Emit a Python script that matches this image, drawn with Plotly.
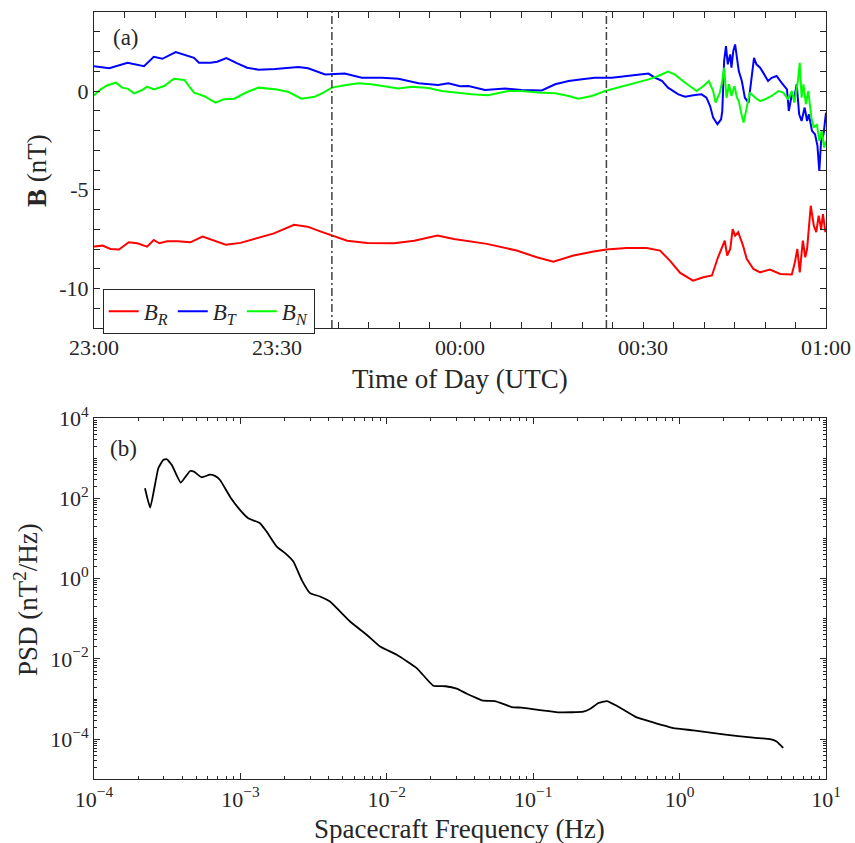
import plotly.graph_objects as go
from plotly.subplots import make_subplots

# ---------------- data (panel a): minutes after 23:00 UTC, field in nT ----------------
time_labels = ["23:00", "23:30", "00:00", "00:30", "01:00"]
time_label_pos = [0, 30, 60, 90, 120]
interval_bounds = [39.0, 84.0]

br_t = [0, 1.4, 2.7, 4.1, 5.7, 7.1, 8.7, 9.8, 10.7, 12.0,
        13.7, 15.8, 17.8, 19.4, 21.6, 24.0, 26.8, 29.5, 32.8, 35.0,
        37.2, 39.1, 41.5, 44.8, 49.2, 52.5, 56.3, 59.0, 60.7, 64.4,
        69.3, 72.6, 75.3, 78.6, 81.9, 84.0, 87.3, 90.6, 92.8, 94.4,
        96.1, 98.2, 99.9, 101.3, 102.3, 102.9, 103.4, 103.8, 104.3, 104.7,
        105.1, 105.6, 106.4, 107.0, 108.1, 109.2, 110.8, 112.5, 114.4, 114.9,
        115.3, 115.7, 116.2, 116.6, 116.9, 117.5, 118.0, 118.4, 118.8, 119.2, 119.5, 119.9]
br_v = [-7.88, -7.83, -8.00, -8.03, -7.66, -7.71, -7.88, -7.54, -7.71, -7.61,
        -7.61, -7.66, -7.37, -7.54, -7.78, -7.69, -7.44, -7.21, -6.77, -6.87,
        -7.12, -7.32, -7.58, -7.69, -7.71, -7.58, -7.32, -7.49, -7.58, -7.74,
        -8.08, -8.42, -8.64, -8.33, -8.13, -8.03, -7.95, -7.95, -8.08, -8.59,
        -9.21, -9.60, -9.43, -9.34, -8.42, -8.00, -7.58, -8.33, -8.00, -6.99,
        -7.32, -7.15, -7.83, -8.50, -9.01, -9.18, -9.04, -9.26, -9.29, -8.67,
        -8.00, -9.18, -7.58, -8.42, -8.00, -5.81, -6.82, -7.15, -6.31, -6.99, -6.23, -7.15]

bt_t = [0, 2.5, 5.5, 8.2, 9.8, 11.2, 13.4, 14.8, 16.4, 17.2,
        19.1, 20.2, 21.7, 23.5, 25.1, 27.0, 29.7, 33.5, 35.1, 37.9,
        41.1, 43.9, 47.2, 49.9, 53.2, 56.4, 58.1, 60.0, 61.4, 64.1,
        67.4, 70.1, 73.4, 75.6, 77.8, 80.0, 82.1, 84.9, 87.0, 89.5,
        90.9, 92.0, 93.1, 94.1, 95.8, 96.9, 98.5, 99.6, 100.4, 101.0,
        101.5, 102.2, 102.8, 103.0, 103.3, 103.6, 103.9, 104.3, 104.5, 104.8,
        105.1, 105.4, 105.7, 106.2, 106.7, 107.3, 107.7, 108.2, 108.6, 109.2,
        109.7, 110.5, 111.1, 111.9, 112.7, 113.6, 113.9, 114.4, 114.8, 115.2,
        115.6, 116.0, 116.5, 116.9, 117.2, 117.7, 118.2, 118.6, 118.9, 119.2, 119.6, 120.0]
bt_v = [1.26, 1.15, 1.43, 1.26, 1.73, 1.63, 1.97, 1.85, 1.68, 1.43,
        1.43, 1.48, 1.67, 1.40, 1.18, 1.08, 1.11, 1.21, 1.15, 0.84,
        0.88, 0.67, 0.67, 0.62, 0.39, 0.30, 0.39, 0.24, 0.25, 0.05,
        0.13, 0.05, 0.03, 0.34, 0.51, 0.59, 0.67, 0.67, 0.76, 0.84,
        0.88, 0.67, 0.51, 0.17, -0.17, -0.29, -0.20, -0.17, -0.34, -0.76,
        -1.35, -1.68, -1.43, -1.01, 1.52, 2.27, 1.35, 1.85, 1.18, 2.02,
        2.36, 1.52, 1.01, 0.51, -0.34, -0.59, 0.51, 1.68, 1.35, 1.18,
        0.93, 0.51, 0.67, 0.76, 0.42, 0.08, -1.01, -0.17, -0.34, 0.34,
        -1.18, -1.52, -0.84, -1.52, -1.18, -2.02, -2.19, -2.78, -4.05, -2.53, -2.19, -1.10]

bn_t = [0, 1.1, 2.2, 3.6, 4.6, 5.5, 6.6, 7.9, 8.7, 9.8,
        11.5, 13.1, 14.8, 15.6, 16.4, 18.0, 19.9, 21.3, 23.0, 25.1,
        27.0, 30.0, 31.9, 34.0, 36.2, 37.6, 39.0, 41.1, 43.3, 45.5,
        47.7, 49.9, 52.1, 54.8, 57.0, 59.5, 61.9, 64.6, 67.9, 70.1,
        72.8, 75.6, 77.8, 79.4, 81.6, 83.8, 86.5, 89.0, 90.9, 92.5,
        94.1, 95.2, 96.9, 98.8, 99.9, 100.8, 101.5, 101.9, 102.6, 103.0,
        103.3, 103.7, 104.1, 104.5, 105.0, 105.4, 105.7, 106.2, 106.5, 107.0,
        107.5, 108.4, 109.2, 110.0, 111.1, 112.2, 113.0, 113.8, 114.4, 114.8,
        115.4, 115.7, 116.0, 116.3, 116.7, 117.1, 117.6, 118.0, 118.5, 118.9, 119.3, 119.7, 120.0]
bn_v = [-0.22, 0.08, 0.29, 0.42, 0.17, 0.12, -0.12, 0.05, 0.22, 0.08,
        0.25, 0.62, 0.56, 0.25, -0.08, -0.25, -0.59, -0.42, -0.39, -0.05,
        0.17, 0.08, -0.05, -0.39, -0.29, -0.08, 0.17, 0.29, 0.39, 0.34,
        0.22, 0.13, 0.22, 0.15, 0.00, -0.10, -0.17, -0.22, 0.00, 0.00,
        -0.08, -0.12, -0.25, -0.39, -0.25, 0.00, 0.22, 0.46, 0.59, 0.76,
        0.98, 0.84, 0.42, 0.00, 0.25, 0.51, 0.00, -0.59, -0.08, 0.51,
        1.18, -0.34, 0.34, -0.25, 0.25, -0.34, -0.51, -1.26, -1.60, -0.84,
        -0.08, -0.34, -0.51, -0.42, -0.25, 0.00, -0.08, -0.42, 0.00, -0.59,
        0.51, 1.43, -0.34, 0.34, -0.67, 0.00, -1.35, -1.85, -1.68, -2.53, -2.02, -2.86, -2.53]

# ---------------- data (panel b): spacecraft-frame PSD ----------------
psd_freq = [2.23e-4, 2.42e-4, 2.75e-4, 2.97e-4, 3.14e-4, 3.40e-4, 3.91e-4, 4.53e-4, 4.82e-4, 5.44e-4,
            6.19e-4, 6.70e-4, 7.26e-4, 8.49e-4, 9.93e-4, 1.13e-3, 1.36e-3, 1.51e-3, 1.77e-3, 2.02e-3,
            2.30e-3, 2.62e-3, 2.99e-3, 3.50e-3, 4.09e-3, 5.61e-3, 7.29e-3, 8.99e-3, 1.17e-2, 1.60e-2,
            2.08e-2, 2.51e-2, 3.0e-2, 3.52e-2, 4.11e-2, 4.56e-2, 5.48e-2, 7.13e-2, 8.34e-2, 0.111,
            0.152, 0.220, 0.244, 0.279, 0.318, 0.372, 0.509, 0.661, 0.906, 1.24,
            1.99, 3.18, 4.15, 4.60, 5.10]
psd_val = [181, 59.4, 569, 914, 953, 687, 249, 486, 468, 339,
           394, 366, 290, 111, 52.0, 32.3, 24.3, 15.0, 6.34, 4.35,
           2.68, 0.94, 0.438, 0.361, 0.270, 0.0859, 0.0401, 0.0205, 0.0127, 5.93e-3,
           2.15e-3, 2.09e-3, 1.82e-3, 1.36e-3, 1.06e-3, 9.10e-4, 8.93e-4, 6.34e-4, 6.10e-4, 5.33e-4,
           4.66e-4, 4.84e-4, 5.65e-4, 7.98e-4, 8.93e-4, 6.82e-4, 3.49e-4, 2.62e-4, 1.90e-4, 1.66e-4,
           1.32e-4, 1.09e-4, 1.01e-4, 8.81e-5, 6.04e-5]

# ---------------- figure ----------------
FONT = "Liberation Serif"
AX = "#262626"
W, H = 855, 843

fig = make_subplots(rows=2, cols=1)

fig.add_trace(go.Scatter(x=br_t, y=br_v, mode="lines", name="<i>B</i><sub><i>R</i></sub>",
                         line=dict(color="#ff0000", width=2)), row=1, col=1)
fig.add_trace(go.Scatter(x=bt_t, y=bt_v, mode="lines", name="<i>B</i><sub><i>T</i></sub>",
                         line=dict(color="#0000ff", width=2)), row=1, col=1)
fig.add_trace(go.Scatter(x=bn_t, y=bn_v, mode="lines", name="<i>B</i><sub><i>N</i></sub>",
                         line=dict(color="#00ff00", width=2)), row=1, col=1)

fig.add_trace(go.Scatter(x=psd_freq, y=psd_val, mode="lines", showlegend=False,
                         line=dict(color="black", width=1.8, shape="spline", smoothing=0.4)),
              row=2, col=1)

for xb in interval_bounds:
    fig.add_vline(x=xb, line=dict(color="#404040", width=1.5, dash="8px,3px,2px,3px"), row=1, col=1)

# domains in pixels -> paper
def px_x(a, b):
    return [a / W, b / W]

def px_y(top, bottom):
    return [1 - bottom / H, 1 - top / H]

common = dict(showline=True, linecolor=AX, linewidth=1, mirror="ticks", ticks="inside",
              tickcolor=AX, ticklen=6, tickwidth=1, showgrid=False, zeroline=False,
              automargin=False, tickfont=dict(family=FONT, size=22, color=AX))

y_major = [-10, -5, 0]
y_major_text = ["-10", "-5", "0"]
y_minor_top = [v for v in range(-12, 5) if v not in y_major]

fig.update_xaxes(domain=px_x(94, 826), range=[0, 120], tickmode="array",
                 tickvals=time_label_pos, ticktext=time_labels,
                 minor=dict(dtick=5, tick0=0, ticks="inside", ticklen=6, tickcolor=AX),
                 **common, row=1, col=1)
fig.update_yaxes(domain=px_y(12, 328), range=[-12, 4], tickmode="array",
                 tickvals=y_major, ticktext=y_major_text,
                 minor=dict(tickmode="array", tickvals=y_minor_top, ticks="inside", ticklen=6, tickcolor=AX),
                 **common, row=1, col=1)

# log axes
def sup(d):
    return "10<sup>" + (("\u2212" + str(-d)) if d < 0 else str(d)) + "</sup>"

xdec = list(range(-4, 2))
ydec = [-4, -2, 0, 2, 4]
x_minor = [m * 10.0 ** d for d in range(-4, 1) for m in range(2, 10)]
y_minor = [m * 10.0 ** d for d in range(-5, 4) for m in range(1, 10) if not (m == 1 and d in ydec)]

fig.update_xaxes(type="log", domain=px_x(94, 826), range=[-4, 1], tickmode="array",
                 tickvals=[10.0 ** d for d in xdec], ticktext=[sup(d) for d in xdec],
                 minor=dict(tickmode="array", tickvals=x_minor, ticks="inside", ticklen=3, tickcolor=AX),
                 **common, row=2, col=1)
fig.update_yaxes(type="log", domain=px_y(418.3, 779.3), range=[-5, 4], tickmode="array",
                 tickvals=[10.0 ** d for d in ydec], ticktext=[sup(d) for d in ydec],
                 minor=dict(tickmode="array", tickvals=y_minor, ticks="inside", ticklen=3, tickcolor=AX),
                 **common, row=2, col=1)

ann_font = dict(family=FONT, size=27, color=AX)
annotations = [
    dict(text="<b>B</b> (nT)", x=37 / W, y=1 - 171 / H, textangle=-90, font=ann_font),
    dict(text="Time of Day (UTC)", x=460 / W, y=1 - 379 / H, font=ann_font),
    dict(text="PSD (nT<sup>2</sup>/Hz)", x=26 / W, y=1 - 600 / H, textangle=-90, font=ann_font),
    dict(text="Spacecraft Frequency (Hz)", x=459 / W, y=1 - 829 / H, font=ann_font),
    dict(text="(a)", x=125.5 / W, y=1 - 37.5 / H, font=dict(family=FONT, size=23, color=AX)),
    dict(text="(b)", x=123.5 / W, y=1 - 449 / H, font=dict(family=FONT, size=23, color=AX)),
]
for a in annotations:
    fig.add_annotation(xref="paper", yref="paper", showarrow=False,
                       xanchor="center", yanchor="middle", **a)

fig.update_layout(
    template="none",
    width=W, height=H, margin=dict(l=0, r=0, t=0, b=0, autoexpand=False),
    paper_bgcolor="white", plot_bgcolor="white",
    font=dict(family=FONT, color=AX),
    legend=dict(orientation="h", x=102.7 / W, y=1 - 288.7 / H, xanchor="left", yanchor="top",
                bordercolor=AX, borderwidth=1, bgcolor="white",
                font=dict(family=FONT, size=23, color=AX), itemwidth=30, tracegroupgap=0),
)

fig.write_html("out.html")
